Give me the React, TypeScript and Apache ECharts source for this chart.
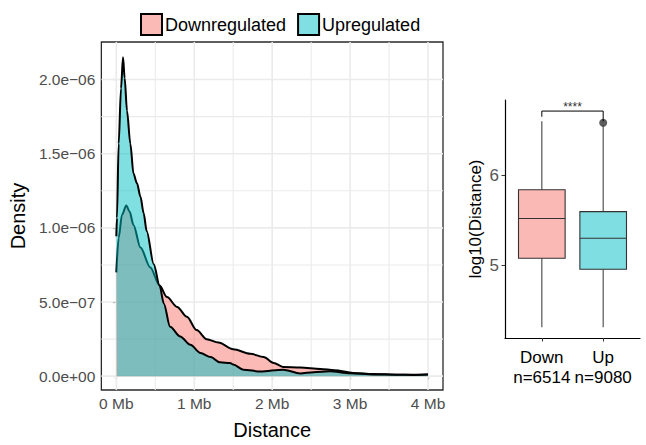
import React, { useEffect, useRef } from "react";
import * as echarts from "echarts";

// ---------- data ----------
const groups = ["Downregulated", "Upregulated"];

// density curves: distance (Mb) and density
const xDown = [0, 0.03, 0.073, 0.128, 0.17, 0.22, 0.31, 0.436, 0.555, 0.65, 0.78, 0.906, 1.03, 1.16, 1.31, 1.5, 1.72, 1.89, 2.02, 2.14, 2.36, 2.62, 2.8, 3.04, 3.3, 3.6, 3.8, 4.0];
const yDown = [0.70e-6, 0.933e-6, 1.089e-6, 1.151e-6, 1.11e-6, 1.02e-6, 0.867e-6, 0.733e-6, 0.611e-6, 0.533e-6, 0.467e-6, 0.40e-6, 0.311e-6, 0.249e-6, 0.227e-6, 0.182e-6, 0.151e-6, 0.129e-6, 0.089e-6, 0.062e-6, 0.058e-6, 0.049e-6, 0.040e-6, 0.022e-6, 0.015e-6, 0.010e-6, 0.010e-6, 0.011e-6];

const xUp = [0, 0.008, 0.03, 0.06, 0.086, 0.107, 0.137, 0.18, 0.22, 0.265, 0.31, 0.35, 0.39, 0.48, 0.555, 0.61, 0.69, 0.82, 0.95, 1.08, 1.21, 1.33, 1.46, 1.5, 1.63, 1.85, 2.14, 2.36, 2.53, 2.74, 3.0, 3.3, 3.6, 3.8, 4.0];
const yUp = [0.944e-6, 1.067e-6, 1.567e-6, 1.94e-6, 2.15e-6, 2.01e-6, 1.79e-6, 1.567e-6, 1.367e-6, 1.30e-6, 1.21e-6, 1.10e-6, 0.978e-6, 0.755e-6, 0.611e-6, 0.489e-6, 0.333e-6, 0.267e-6, 0.211e-6, 0.156e-6, 0.129e-6, 0.093e-6, 0.089e-6, 0.078e-6, 0.044e-6, 0.031e-6, 0.044e-6, 0.018e-6, 0.027e-6, 0.033e-6, 0.02e-6, 0.012e-6, 0.010e-6, 0.008e-6, 0.011e-6];

// axis ticks / gridlines of the density panel
const xTicks = [0, 1, 2, 3, 4];
const xMinor = [0.5, 1.5, 2.5, 3.5];
const yTicks = [0, 0.5e-6, 1.0e-6, 1.5e-6, 2.0e-6];
const yMinor = [0.25e-6, 0.75e-6, 1.25e-6, 1.75e-6];

// boxplot (log10 distance)
const boxCategories = ["Down", "Up"];
const boxCounts = [6514, 9080];
const boxLow = [4.311, 4.311];
const boxQ1 = [5.078, 4.956];
const boxMedian = [5.52, 5.30];
const boxQ3 = [5.84, 5.596];
const boxHigh = [6.60, 6.56];
const outliers = [[2, 6.585]];
const boxTicks = [5, 6];
const signifLabel = "****";
const signifY = 6.714;

// ---------- styles ----------
const FONT = '"Liberation Sans", Arial, Helvetica, sans-serif';
const downFill = "#F8766D";
const upFill = "#00BFC4";
const boxFills = ["#FBB9B5", "#7FDEE1"];

function sci(v: number): string {
  if (Math.abs(v) < 1e-15) return "0.0e+00";
  const exp = Math.floor(Math.log10(Math.abs(v)) + 1e-9);
  const mant = v / Math.pow(10, exp);
  const sign = exp < 0 ? "\u2212" : "+";
  const e = Math.abs(exp);
  return mant.toFixed(1) + "e" + sign + (e < 10 ? "0" + e : "" + e);
}

export default function App() {
  const ref = useRef<HTMLDivElement>(null);
  useEffect(() => {
    if (!ref.current) return;
    const chart = echarts.init(ref.current, undefined, { renderer: "svg" });

    const gridV = [...xTicks.map((v) => [v, 1]), ...xMinor.map((v) => [v, 0])];
    const gridH = [...yTicks.map((v) => [v, 1]), ...yMinor.map((v) => [v, 0])];
    const boxData = boxCategories.map((_, i) => [i + 1, boxLow[i], boxQ1[i], boxMedian[i], boxQ3[i], boxHigh[i]]);

    const option: any = {
      animation: false,
      backgroundColor: "#fff",
      textStyle: { fontFamily: FONT },
      legend: {
        data: [
          { name: groups[0], itemStyle: { color: "#FBBAB6", borderColor: "#000", borderWidth: 2 } },
          { name: groups[1], itemStyle: { color: "#80DFE2", borderColor: "#000", borderWidth: 2 } },
        ],
        icon: "rect",
        left: 140,
        top: 13,
        padding: 0,
        itemWidth: 21,
        itemHeight: 21,
        itemGap: 11,
        textStyle: { fontSize: 18, color: "#000", fontFamily: FONT, padding: [0, 0, 0, -2] },
        selectedMode: false,
      },
      grid: [
        { left: 101, right: 203, top: 42, bottom: 51, show: true, borderColor: "#2a2a2a", borderWidth: 1.3, backgroundColor: "transparent" },
        { left: 505, right: 6, top: 100, bottom: 107 },
      ],
      xAxis: [
        {
          type: "value",
          gridIndex: 0,
          min: -0.192,
          max: 4.192,
          name: "Distance",
          nameLocation: "middle",
          nameGap: 30,
          nameTextStyle: { fontSize: 20, color: "#000", fontFamily: FONT },
          axisLine: { show: false },
          axisTick: { show: true, length: 3.5, lineStyle: { color: "#333", width: 1.1 }, customValues: xTicks },
          axisLabel: { customValues: xTicks, formatter: (v: number) => v + " Mb", fontSize: 15.5, color: "#4D4D4D", margin: 5, fontFamily: FONT },
          splitLine: { show: false },
        },
        {
          type: "value",
          gridIndex: 1,
          min: 0.4,
          max: 2.6,
          axisLine: { show: true, lineStyle: { color: "#000", width: 1.2 } },
          axisTick: { show: true, length: 3.5, lineStyle: { color: "#333", width: 1 }, customValues: [1, 2] },
          axisLabel: {
            customValues: [1, 2],
            formatter: (v: number) => {
              const i = Math.round(v) - 1;
              return boxCategories[i] + "\nn=" + boxCounts[i];
            },
            fontSize: 17,
            lineHeight: 20,
            color: "#000",
            margin: 9,
            fontFamily: FONT,
          },
          splitLine: { show: false },
        },
      ],
      yAxis: [
        {
          type: "value",
          gridIndex: 0,
          min: -0.0933e-6,
          max: 2.2533e-6,
          name: "Density",
          nameLocation: "middle",
          nameGap: 71,
          nameTextStyle: { fontSize: 20, color: "#000", fontFamily: FONT },
          axisLine: { show: false },
          axisTick: { show: true, length: 3.5, lineStyle: { color: "#333", width: 1.1 }, customValues: yTicks },
          axisLabel: { customValues: yTicks, formatter: (v: number) => sci(v), fontSize: 15.5, color: "#4D4D4D", margin: 6, fontFamily: FONT },
          splitLine: { show: false },
        },
        {
          type: "value",
          gridIndex: 1,
          min: 4.192,
          max: 6.837,
          name: "log10(Distance)",
          nameLocation: "middle",
          nameGap: 21,
          nameTextStyle: { fontSize: 17, color: "#000", fontFamily: FONT },
          axisLine: { show: true, lineStyle: { color: "#000", width: 1.2 } },
          axisTick: { show: true, length: 3.5, lineStyle: { color: "#333", width: 1 }, customValues: boxTicks },
          axisLabel: { customValues: boxTicks, fontSize: 17, color: "#555", margin: 6, fontFamily: FONT },
          splitLine: { show: false },
        },
      ],
      series: [
        {
          type: "custom",
          name: "gridV",
          xAxisIndex: 0,
          yAxisIndex: 0,
          z: 1,
          silent: true,
          data: gridV,
          renderItem: (params: any, api: any) => {
            const cs = params.coordSys;
            const px = api.coord([api.value(0), 0])[0];
            const major = api.value(1) === 1;
            return {
              type: "line",
              shape: { x1: px, y1: cs.y, x2: px, y2: cs.y + cs.height },
              style: { stroke: "#EBEBEB", lineWidth: major ? 1.6 : 1.1 },
            };
          },
        },
        {
          type: "custom",
          name: "gridH",
          xAxisIndex: 0,
          yAxisIndex: 0,
          z: 1,
          silent: true,
          data: gridH,
          renderItem: (params: any, api: any) => {
            const cs = params.coordSys;
            const py = api.coord([0, api.value(0)])[1];
            const major = api.value(1) === 1;
            return {
              type: "line",
              shape: { x1: cs.x, y1: py, x2: cs.x + cs.width, y2: py },
              style: { stroke: "#EBEBEB", lineWidth: major ? 1.6 : 1.1 },
            };
          },
        },
        {
          type: "line",
          name: groups[0],
          xAxisIndex: 0,
          yAxisIndex: 0,
          z: 2,
          data: xDown.map((x, i) => [x, yDown[i]]),
          showSymbol: false,
          symbol: "none",
          smooth: 0.3,
          smoothMonotone: "x",
          itemStyle: { color: "#FBBAB6" },
          lineStyle: { color: "#000", width: 2 },
          areaStyle: { color: downFill, opacity: 0.5 },
        },
        {
          type: "line",
          name: groups[1],
          xAxisIndex: 0,
          yAxisIndex: 0,
          z: 3,
          data: xUp.map((x, i) => [x, yUp[i]]),
          showSymbol: false,
          symbol: "none",
          smooth: 0.3,
          smoothMonotone: "x",
          itemStyle: { color: "#80DFE2" },
          lineStyle: { color: "#000", width: 2 },
          areaStyle: { color: upFill, opacity: 0.5 },
        },
        {
          type: "custom",
          name: "box",
          xAxisIndex: 1,
          yAxisIndex: 1,
          z: 2,
          data: boxData,
          renderItem: (params: any, api: any) => {
            const x = api.value(0);
            const lo = api.coord([x, api.value(1)]);
            const q1 = api.coord([x, api.value(2)]);
            const med = api.coord([x, api.value(3)]);
            const q3 = api.coord([x, api.value(4)]);
            const hi = api.coord([x, api.value(5)]);
            const xl = api.coord([x - 0.38, 5])[0];
            const xr = api.coord([x + 0.38, 5])[0];
            const fill = boxFills[params.dataIndex];
            return {
              type: "group",
              children: [
                { type: "line", shape: { x1: lo[0], y1: lo[1], x2: q1[0], y2: q1[1] }, style: { stroke: "#555", lineWidth: 1.2 } },
                { type: "line", shape: { x1: q3[0], y1: q3[1], x2: hi[0], y2: hi[1] }, style: { stroke: "#555", lineWidth: 1.2 } },
                { type: "rect", shape: { x: xl, y: q3[1], width: xr - xl, height: q1[1] - q3[1] }, style: { fill, stroke: "#333", lineWidth: 1.1 } },
                { type: "line", shape: { x1: xl, y1: med[1], x2: xr, y2: med[1] }, style: { stroke: "#333", lineWidth: 1.1 } },
              ],
            };
          },
        },
        {
          type: "scatter",
          name: "outlier",
          xAxisIndex: 1,
          yAxisIndex: 1,
          z: 3,
          data: outliers,
          symbolSize: 8,
          itemStyle: { color: "#333" },
        },
        {
          type: "custom",
          name: "signif",
          xAxisIndex: 1,
          yAxisIndex: 1,
          z: 4,
          data: [[1, 2, signifY, 6.651, 6.6]],
          renderItem: (params: any, api: any) => {
            const a = api.coord([api.value(0), api.value(3)]);
            const b = api.coord([api.value(0), api.value(2)]);
            const c = api.coord([api.value(1), api.value(2)]);
            const d = api.coord([api.value(1), api.value(4)]);
            return {
              type: "group",
              children: [
                { type: "polyline", shape: { points: [a, b, c, d] }, style: { stroke: "#000", lineWidth: 1, fill: "none" } },
                {
                  type: "text",
                  style: { text: signifLabel, x: (b[0] + c[0]) / 2, y: b[1] - 4, align: "center", verticalAlign: "middle", fontSize: 12, fill: "#333", fontFamily: FONT },
                },
              ],
            };
          },
        },
      ],
    };
    chart.setOption(option);
    return () => chart.dispose();
  }, []);
  return <div ref={ref} style={{ position: "fixed", left: 0, top: 0, width: 646, height: 445 }} />;
}
